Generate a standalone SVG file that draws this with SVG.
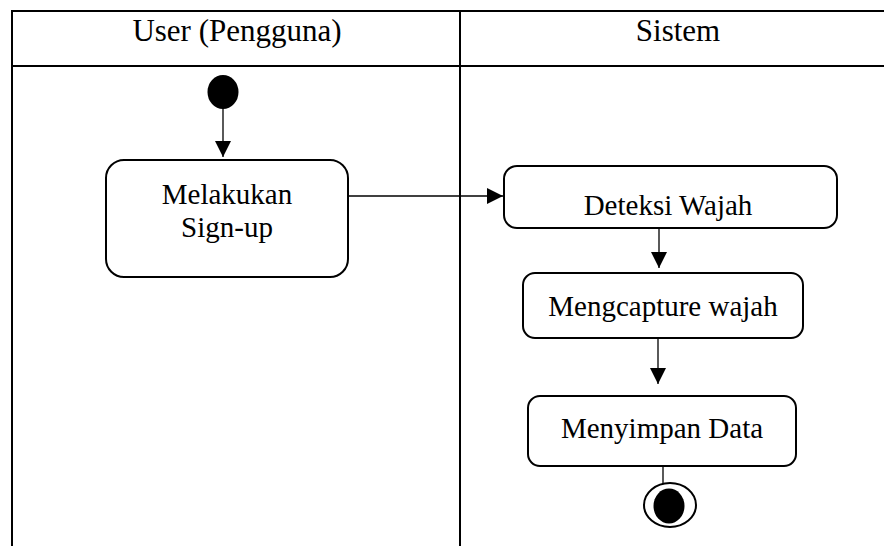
<svg xmlns="http://www.w3.org/2000/svg" width="884" height="546" viewBox="0 0 884 546">
  <style>
    .grid { stroke: #000; stroke-width: 2; fill: none; }
    .box { fill: #fff; stroke: #000; stroke-width: 2; }
    .lbl { font-family: "Liberation Serif", "Times New Roman", serif; font-size: 29px; fill: #000; text-anchor: middle; }
    .head { font-family: "Liberation Serif", "Times New Roman", serif; font-size: 31px; fill: #000; text-anchor: middle; }
    .edge { stroke: #000; stroke-width: 1.3; fill: none; }
  </style>
  <defs>
    <marker id="arrow" markerUnits="userSpaceOnUse" markerWidth="16" markerHeight="16" refX="16" refY="8" orient="auto">
      <path d="M0,0 L16,8 L0,16 Z" fill="#000"/>
    </marker>
  </defs>
  <rect width="884" height="546" fill="#fff"/>

  <!-- swimlane table -->
  <g id="lanes">
    <line class="grid" x1="11" y1="11" x2="890" y2="11"/>
    <line class="grid" x1="11" y1="66" x2="890" y2="66"/>
    <line class="grid" x1="12" y1="10" x2="12" y2="546"/>
    <line class="grid" x1="460" y1="10" x2="460" y2="546"/>
    <text class="head" x="237" y="41">User (Pengguna)</text>
    <text class="head" x="678" y="41">Sistem</text>
  </g>

  <!-- connectors -->
  <g id="connectors">
    <line class="edge" x1="223" y1="108" x2="223" y2="157" marker-end="url(#arrow)"/>
    <line class="edge" x1="348" y1="196" x2="503" y2="196" marker-end="url(#arrow)"/>
    <line class="edge" x1="659" y1="228" x2="659" y2="268" marker-end="url(#arrow)"/>
    <line class="edge" x1="658" y1="338" x2="658" y2="384" marker-end="url(#arrow)"/>
    <line class="edge" x1="663" y1="466" x2="663" y2="492"/>
  </g>

  <g id="start">
    <ellipse cx="223" cy="92" rx="15.5" ry="17" fill="#000"/>
  </g>

  <g id="signup">
    <rect class="box" x="106" y="160" width="242" height="117" rx="18"/>
    <text class="lbl" x="227" y="204">Melakukan</text>
    <text class="lbl" x="227" y="237">Sign-up</text>
  </g>

  <g id="deteksi">
    <rect class="box" x="504" y="166" width="333" height="62" rx="13"/>
    <text class="lbl" x="668" y="215">Deteksi Wajah</text>
  </g>

  <g id="capture">
    <rect class="box" x="523" y="273" width="280" height="65" rx="12"/>
    <text class="lbl" x="663" y="316">Mengcapture wajah</text>
  </g>

  <g id="simpan">
    <rect class="box" x="528" y="396" width="268" height="70" rx="12"/>
    <text class="lbl" x="662" y="438">Menyimpan Data</text>
  </g>

  <g id="end">
    <ellipse cx="670" cy="505" rx="26" ry="22" fill="#fff" stroke="#000" stroke-width="2"/>
    <ellipse cx="669" cy="506" rx="15.5" ry="17.5" fill="#000"/>
  </g>
</svg>
